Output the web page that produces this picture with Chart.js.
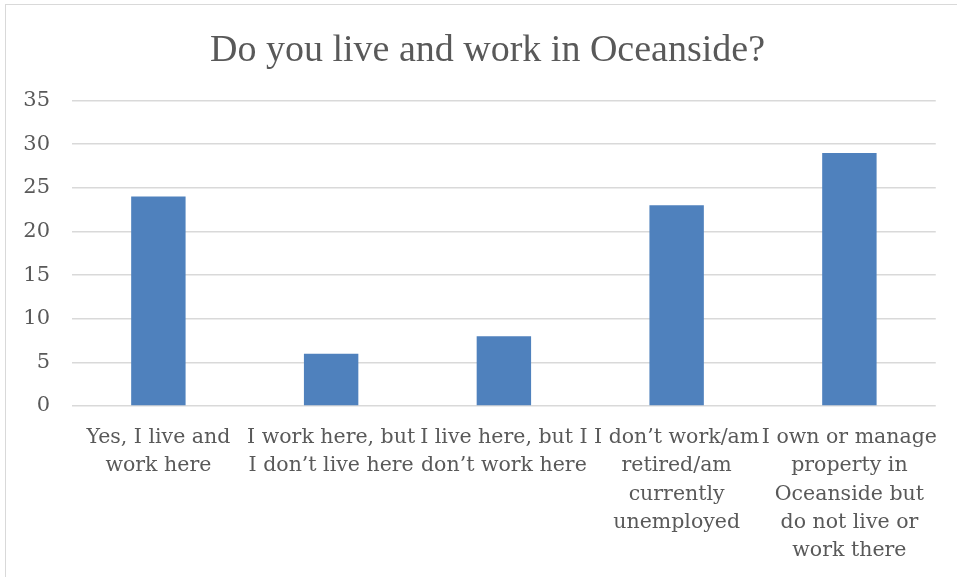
<!DOCTYPE html>
<html>
<head>
<meta charset="utf-8">
<script src="https://cdn.jsdelivr.net/npm/chart.js@4/dist/chart.umd.min.js"></script>
<style>
  body { margin: 0; background: #fff; }
  #frame {
    position: absolute; left: 5px; top: 4px; width: 960px; height: 580px;
    border: 1px solid #d9d9d9;
  }
  #wrap { position: absolute; left: 0; top: 0; width: 957px; height: 577px; }
</style>
</head>
<body>
<div id="frame"></div>
<div id="wrap"><canvas id="surveyChart" width="957" height="577"></canvas></div>
<script>
/* ----- dati ----- */
const categories = [
  ["Yes, I live and", "work here"],
  ["I work here, but", "I don\u2019t live here"],
  ["I live here, but I", "don\u2019t work here"],
  ["I don\u2019t work/am", "retired/am", "currently", "unemployed"],
  ["I own or manage", "property in", "Oceanside but", "do not live or", "work there"]
];
const responses = [24, 6, 8, 23, 29];
const yTicks = [0, 5, 10, 15, 20, 25, 30, 35];

const textColor = "#595959";
const gridColor = "#d9d9d9";

/* ----- grafico ----- */
let surveyChart = new Chart("surveyChart", {
  type: "bar",
  data: {
    labels: categories,
    datasets: [
      {
        data: responses,
        backgroundColor: "#4f81bd",
        borderWidth: 0,
        barPercentage: 0.315,
        categoryPercentage: 1,
      },
    ],
  },
  options: {
    responsive: false,
    animation: false,
    layout: { padding: { left: 0, right: 20, top: 0, bottom: 0 } },
    plugins: {
      legend: { display: false },
      tooltip: { enabled: false },
      title: {
        display: true,
        // spazi iniziali: il titolo nell'originale e' un po' spostato a destra
        text: "    Do you live and work in Oceanside?",
        color: textColor,
        font: { family: "Liberation Serif", size: 38, weight: "normal" },
        padding: { top: 28, bottom: 27 },
      },
    },
    scales: {
      x: {
        grid: { display: false, drawTicks: false },
        border: { display: false },
        ticks: {
          color: textColor,
          maxRotation: 0,
          autoSkip: false,
          padding: 18,
          font: { family: "DejaVu Serif", size: 20.5, lineHeight: 1.37 },
        },
        afterFit: (s) => { s.height = 171; },
      },
      y: {
        min: 0,
        max: 35,
        afterBuildTicks: (s) => { s.ticks = yTicks.map((v) => ({ value: v })); },
        grid: { color: gridColor, lineWidth: 1.5, drawTicks: false },
        border: { display: false },
        ticks: {
          color: textColor,
          padding: 22,
          font: { family: "DejaVu Serif", size: 21 },
        },
        afterFit: (s) => { s.width = 72; },
      },
    },
  },
});
</script>
</body>
</html>
